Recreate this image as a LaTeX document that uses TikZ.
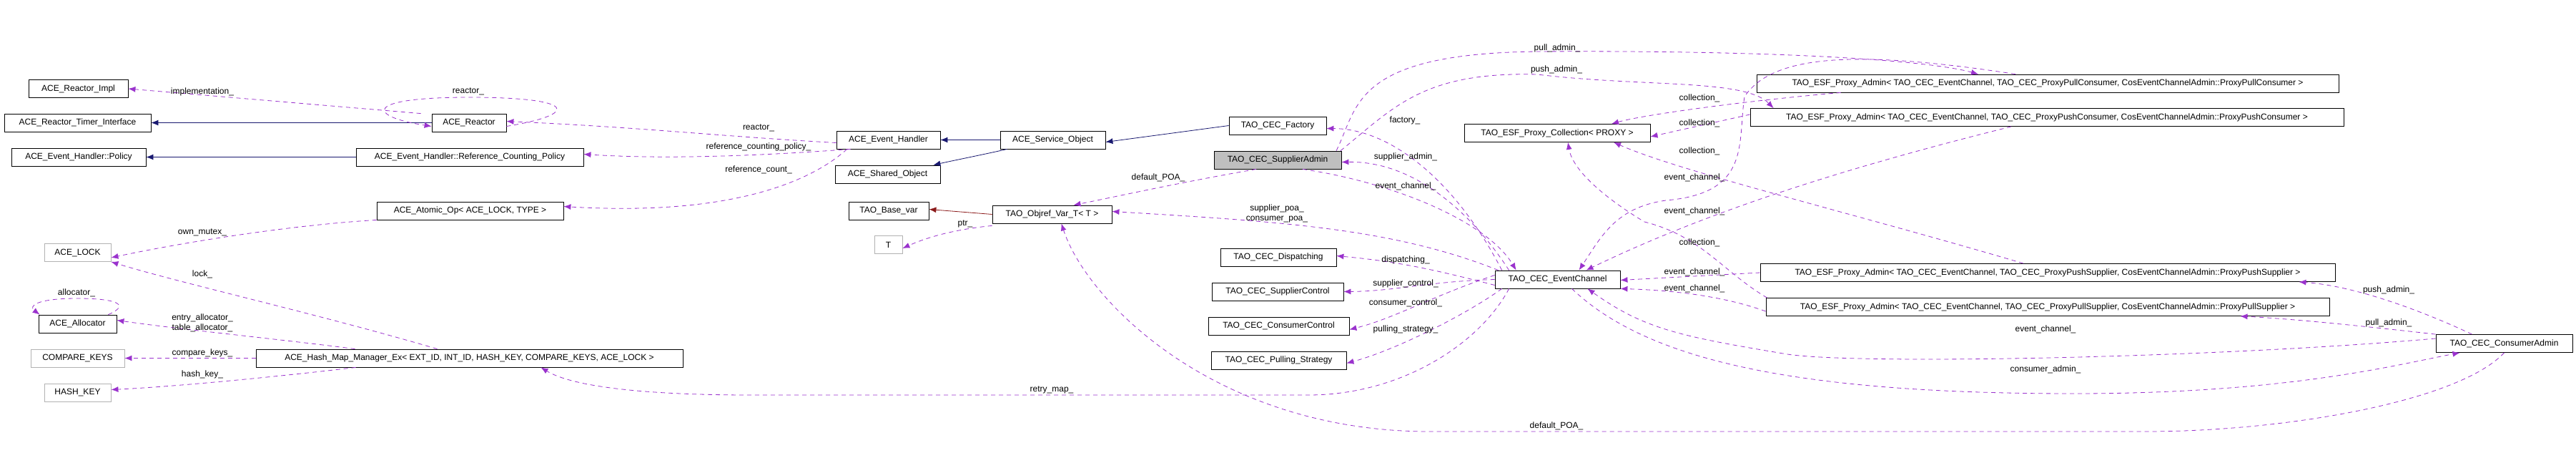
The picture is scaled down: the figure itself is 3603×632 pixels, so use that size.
\documentclass[tikz,border=0pt]{standalone}
\usepackage{fontspec}
\setmainfont{Liberation Sans}
\usetikzlibrary{arrows.meta}
\definecolor{usecol}{HTML}{9A32CD}
\definecolor{inhcol}{HTML}{191970}
\definecolor{tplcol}{HTML}{8B1A1A}
\begin{document}
\begin{tikzpicture}[x=1pt,y=-1pt,
  cls/.style={draw=black,line width=0.8pt,inner sep=0pt,minimum height=25pt,font=\fontsize{12}{14}\selectfont,fill=white},
  ext/.style={cls,draw=black!30},
  lab/.style={font=\fontsize{12}{14}\selectfont,inner sep=0pt,align=center},
  use/.style={draw=usecol,dash pattern=on 6pt off 5pt,line width=0.8pt,-{Latex[length=10pt,width=8pt]}},
  inh/.style={draw=inhcol,line width=0.8pt,-{Latex[length=10pt,width=8pt]}},
  tpl/.style={draw=tplcol,line width=0.8pt,-{Latex[length=10pt,width=8pt]}}]
\useasboundingbox[fill=white] (0,0) rectangle (3603,632);
% nodes
\node[cls,minimum width=139] (impl) at (109.5,124) {ACE\_Reactor\_Impl};
\node[cls,minimum width=205] (timer) at (108.5,171.5) {ACE\_Reactor\_Timer\_Interface};
\node[cls,minimum width=188] (policy) at (110,219.5) {ACE\_Event\_Handler::Policy};
\node[cls,minimum width=104] (reactor) at (656,171.5) {ACE\_Reactor};
\node[cls,minimum width=318] (rcp) at (657,219.5) {ACE\_Event\_Handler::Reference\_Counting\_Policy};
\node[cls,minimum width=261] (atomic) at (657.5,294.5) {ACE\_Atomic\_Op< ACE\_LOCK, TYPE >};
\node[ext,minimum width=93] (lock) at (108.5,353) {ACE\_LOCK};
\node[cls,minimum width=109] (alloc) at (108.5,452.5) {ACE\_Allocator};
\node[ext,minimum width=131] (ckeys) at (108.5,500.5) {COMPARE\_KEYS};
\node[cls,minimum width=597] (hash) at (656.5,500.5) {ACE\_Hash\_Map\_Manager\_Ex< EXT\_ID, INT\_ID, HASH\_KEY, COMPARE\_KEYS, ACE\_LOCK >};
\node[ext,minimum width=93] (hkey) at (108.5,548.5) {HASH\_KEY};
\node[cls,minimum width=145] (eh) at (1242.5,195.5) {ACE\_Event\_Handler};
\node[cls,minimum width=147] (so) at (1241.5,243.5) {ACE\_Shared\_Object};
\node[cls,minimum width=112] (basevar) at (1243,294.5) {TAO\_Base\_var};
\node[ext,minimum width=39] (T) at (1242.5,342) {T};
\node[cls,minimum width=147] (svc) at (1472.5,195.5) {ACE\_Service\_Object};
\node[cls,minimum width=167] (objref) at (1471.5,299.5) {TAO\_Objref\_Var\_T< T >};
\node[cls,minimum width=136] (factory) at (1787,175.5) {TAO\_CEC\_Factory};
\node[cls,minimum width=178,fill=black!25] (sadmin) at (1787,223.5) {TAO\_CEC\_SupplierAdmin};
\node[cls,minimum width=162] (disp) at (1788,359.5) {TAO\_CEC\_Dispatching};
\node[cls,minimum width=184] (sctl) at (1787,407.5) {TAO\_CEC\_SupplierControl};
\node[cls,minimum width=197] (cctl) at (1788.5,455.5) {TAO\_CEC\_ConsumerControl};
\node[cls,minimum width=189] (pull) at (1788.5,503.5) {TAO\_CEC\_Pulling\_Strategy};
\node[cls,minimum width=260] (coll) at (2178,186) {TAO\_ESF\_Proxy\_Collection< PROXY >};
\node[cls,minimum width=175] (ec) at (2178.5,390.5) {TAO\_CEC\_EventChannel};
\node[cls,minimum width=814] (pac) at (2864,116.5) {TAO\_ESF\_Proxy\_Admin< TAO\_CEC\_EventChannel, TAO\_CEC\_ProxyPullConsumer, CosEventChannelAdmin::ProxyPullConsumer >};
\node[cls,minimum width=830] (puc) at (2863,164) {TAO\_ESF\_Proxy\_Admin< TAO\_CEC\_EventChannel, TAO\_CEC\_ProxyPushConsumer, CosEventChannelAdmin::ProxyPushConsumer >};
\node[cls,minimum width=804] (pps) at (2864,381) {TAO\_ESF\_Proxy\_Admin< TAO\_CEC\_EventChannel, TAO\_CEC\_ProxyPushSupplier, CosEventChannelAdmin::ProxyPushSupplier >};
\node[cls,minimum width=788] (pls) at (2864,429) {TAO\_ESF\_Proxy\_Admin< TAO\_CEC\_EventChannel, TAO\_CEC\_ProxyPullSupplier, CosEventChannelAdmin::ProxyPullSupplier >};
\node[cls,minimum width=191] (cadmin) at (3502.5,480) {TAO\_CEC\_ConsumerAdmin};
% inheritance
\draw[inh] (reactor.west) -- (timer.east);
\draw[inh] (rcp.west) -- (policy.east);
\draw[inh] (svc.west) -- (eh.east);
\draw[inh] ([xshift=10]svc.south west) .. controls (1380,215) and (1330,225) .. ([xshift=-10]so.north east);
\draw[inh] (factory.west) -- ([yshift=-3]svc.east);
\draw[tpl] (objref.west) -- ([yshift=2]basevar.east);
% usage
\draw[use] ([xshift=-15]reactor.north west) -- (impl.east);
\draw[use] ([yshift=-5]reactor.east) .. controls (810,160) and (810,136) .. (656,136) .. controls (505,136) and (515,163) .. ([yshift=-5]reactor.west);
\draw[use] ([yshift=-4]eh.west) .. controls (1000,190) and (900,178) .. ([yshift=2]reactor.east);
\draw[use] ([xshift=20]eh.south west) .. controls (1100,215) and (950,224) .. ([yshift=4]rcp.east);
\draw[use] ([xshift=15]eh.south west) .. controls (1150,240) and (1050,304) .. ([yshift=6]atomic.east);
\draw[use] (atomic.south west) .. controls (400,315) and (250,340) .. ([yshift=-7]lock.east);
\draw[use] ([xshift=-45]hash.north) .. controls (450,440) and (250,395) .. (lock.south east);
\draw[use] ([xshift=-160]hash.north) .. controls (400,475) and (250,460) .. ([yshift=5]alloc.east);
\draw[use] ([xshift=-12]alloc.north east) .. controls (185,425) and (160,417) .. (108,417) .. controls (50,417) and (40,428) .. ([xshift=2]alloc.north west);
\draw[use] (hash.west) -- (ckeys.east);
\draw[use] ([xshift=140]hash.south west) .. controls (400,525) and (250,540) .. ([yshift=4]hkey.east);
\draw[use] ([yshift=-3]objref.south west) .. controls (1340,320) and (1300,330) .. ([yshift=-5]T.east);
\draw[use] ([xshift=-30]sadmin.south) .. controls (1650,255) and (1560,275) .. ([xshift=30]objref.north);
\draw[use] ([xshift=5]ec.north west) .. controls (1950,320) and (1800,310) .. ([yshift=4]objref.east);
\draw[use] ([xshift=10]ec.north west) .. controls (2040,260) and (1950,180) .. ([yshift=-4]factory.east);
\draw[use] ([xshift=20]ec.north west) .. controls (2060,300) and (1980,225) .. ([yshift=-3]sadmin.east);
\draw[use] ([xshift=35]sadmin.south) .. controls (1950,255) and (2080,310) .. ([xshift=30]ec.north west);
\draw[use] ([yshift=-8]ec.west) .. controls (2000,375) and (1950,365) .. ([yshift=2]disp.east);
\draw[use] (ec.west) .. controls (2000,393) and (1950,407) .. (sctl.east);
\draw[use] ([yshift=6]ec.west) .. controls (2000,415) and (1950,445) .. ([yshift=-5]cctl.east);
\draw[use] ([xshift=10]ec.south west) .. controls (2050,440) and (1950,490) .. ([yshift=-4]pull.east);
\draw[use] ([xshift=20]ec.south west) .. controls (2070,480) and (1960,552) .. (1830,552) -- (1050,552) .. controls (900,552) and (800,540) .. ([xshift=100]hash.south);
\draw[use] (cadmin.south) .. controls (3440,560) and (3200,603) .. (3000,603) -- (2000,603) .. controls (1700,603) and (1520,420) .. ([xshift=13]objref.south);
\draw[use] ([xshift=82]sadmin.north) .. controls (1900,150) and (1890,75) .. (2150,72) .. controls (2500,70) and (2700,85) .. ([xshift=-97]pac.north);
\draw[use] ([xshift=88]sadmin.north) .. controls (1950,150) and (1990,100) .. (2150,104) .. controls (2300,122) and (2440,110) .. ([xshift=33]puc.north west);
\draw[use] ([xshift=118]pac.south west) .. controls (2450,140) and (2300,160) .. ([xshift=76]coll.north);
\draw[use] ([yshift=4]puc.west) -- ([yshift=-5]coll.east);
\draw[use] ([xshift=-34]pps.north) .. controls (2600,300) and (2350,240) .. ([xshift=79]coll.south);
\draw[use] ([xshift=2]pls.north west) .. controls (2410,380) and (2380,330) .. (2300,310) .. controls (2250,280) and (2200,240) .. ([xshift=15]coll.south);
\draw[use] ([xshift=-45]pac.north) .. controls (2600,70) and (2480,75) .. (2440,135) .. controls (2430,200) and (2450,270) .. (2330,280) .. controls (2260,290) and (2240,330) .. ([xshift=30]ec.north);
\draw[use] ([xshift=-50]puc.south) .. controls (2600,230) and (2400,290) .. ([xshift=40]ec.north);
\draw[use] (pps.west) -- ([yshift=-1]ec.east);
\draw[use] ([yshift=-6]pls.west) .. controls (2400,410) and (2320,405) .. (ec.south east);
\draw[use] ([yshift=7]cadmin.west) .. controls (3100,500) and (2600,510) .. (2500,495) .. controls (2350,470) and (2300,460) .. ([xshift=42]ec.south);
\draw[use] ([xshift=20]ec.south) .. controls (2300,500) and (2500,550) .. (2900,550) .. controls (3200,550) and (3350,510) .. ([xshift=-62]cadmin.south);
\draw[use] ([xshift=-45]cadmin.north) .. controls (3400,440) and (3300,400) .. ([xshift=-51]pps.south east);
\draw[use] (cadmin.north west) .. controls (3300,455) and (3200,445) .. ([xshift=-125]pls.south east);
% labels
\node[lab] (l1) at (283,128) {implementation\_};
\node[lab] (l2) at (655,128) {reactor\_};
\node[lab] (l3) at (1061,179) {reactor\_};
\node[lab] (l4) at (1061,205) {reference\_counting\_policy\_};
\node[lab] (l5) at (1061,237) {reference\_count\_};
\node[lab] (l6) at (283,325) {own\_mutex\_};
\node[lab] (l7) at (283,383) {lock\_};
\node[lab] (l8) at (107,409) {allocator\_};
\node[lab] (l9) at (283,451) {entry\_allocator\_\\table\_allocator\_};
\node[lab] (l10) at (283,493) {compare\_keys\_};
\node[lab] (l11) at (283,523) {hash\_key\_};
\node[lab] (l12) at (1350,313) {ptr\_};
\node[lab] (l13) at (1620,248) {default\_POA\_};
\node[lab] (l14) at (1965,168) {factory\_};
\node[lab] (l15) at (1966,219) {supplier\_admin\_};
\node[lab] (l16) at (1966,260) {event\_channel\_};
\node[lab] (l17) at (1786,298) {supplier\_poa\_\\consumer\_poa\_};
\node[lab] (l18) at (1966,363) {dispatching\_};
\node[lab] (l19) at (1966,396) {supplier\_control\_};
\node[lab] (l20) at (1966,423) {consumer\_control\_};
\node[lab] (l21) at (1966,460) {pulling\_strategy\_};
\node[lab] (l22) at (1471,545) {retry\_map\_};
\node[lab] (l23) at (2177,595) {default\_POA\_};
\node[lab] (l24) at (2178,67) {pull\_admin\_};
\node[lab] (l25) at (2177,97) {push\_admin\_};
\node[lab] (l26) at (2377,137) {collection\_};
\node[lab] (l27) at (2377,172) {collection\_};
\node[lab] (l28) at (2377,211) {collection\_};
\node[lab] (l29) at (2377,339) {collection\_};
\node[lab] (l30) at (2370,248) {event\_channel\_};
\node[lab] (l31) at (2370,295) {event\_channel\_};
\node[lab] (l32) at (2370,380) {event\_channel\_};
\node[lab] (l33) at (2370,403) {event\_channel\_};
\node[lab] (l34) at (2861,460) {event\_channel\_};
\node[lab] (l35) at (2861,516) {consumer\_admin\_};
\node[lab] (l36) at (3341,405) {push\_admin\_};
\node[lab] (l37) at (3341,451) {pull\_admin\_};
\end{tikzpicture}
\end{document}
